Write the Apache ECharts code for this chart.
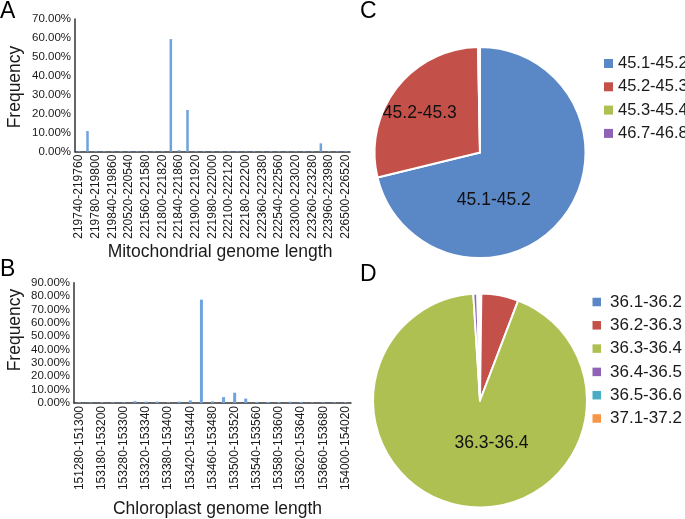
<!DOCTYPE html>
<html><head><meta charset="utf-8">
<script src="https://cdn.jsdelivr.net/npm/echarts/dist/echarts.min.js"></script>
<style>html,body{margin:0;padding:0;background:#fff}#c{width:685px;height:519px}</style>
</head><body><div id="c"></div>
<script>
// Panel A: mitochondrial genome length distribution
const mitoCategories = [
 '219740-219760','219760-219780','219780-219800','219820-219840','219840-219860','220480-220500',
 '220520-220540','221020-221040','221560-221580','221780-221800','221800-221820','221820-221840',
 '221840-221860','221880-221900','221900-221920','221960-221980','221980-222000','222060-222080',
 '222100-222120','222160-222180','222180-222200','222300-222320','222360-222380','222460-222480',
 '222540-222560','222800-222820','223000-223020','223120-223140','223260-223280','223900-223920',
 '223960-223980','224540-224560','226500-226520'];
const mitoValues = [0.4,10.9,0.4,0.4,0.4,0.4,0.4,0.4,0.4,0.4,0.4,59.4,0.8,22.0,0.4,0.4,0.4,0.4,0.4,0.4,0.4,0.4,0.4,0.4,0.4,0.4,0.4,0.4,0.4,4.4,0.4,0.4,0.4];
const mitoTicks = [0,10,20,30,40,50,60,70];

// Panel B: chloroplast genome length distribution
const chloroCategories = [
 '151280-151300','152900-152920','153180-153200','153240-153260','153280-153300','153300-153320',
 '153320-153340','153360-153380','153380-153400','153400-153420','153420-153440','153440-153460',
 '153460-153480','153480-153500','153500-153520','153520-153540','153540-153560','153560-153580',
 '153580-153600','153600-153620','153620-153640','153640-153660','153660-153680','153700-153720',
 '154000-154020'];
const chloroValues = [0.5,0.5,0.5,0.5,0.5,1.4,1.0,1.0,0.5,1.0,1.9,77.3,1.2,4.4,7.7,3.3,0.8,0.8,0.8,1.0,0.8,0.5,0.5,0.5,0.5];
const chloroTicks = [0,10,20,30,40,50,60,70,80,90];

// Panel C: mitochondrial GC content
const mitoGCNames = ['45.1-45.2','45.2-45.3','45.3-45.4','46.7-46.8'];
const mitoGCValues = [71.2,28.5,0.15,0.15];

// Panel D: chloroplast GC content
const chloroGCNames = ['36.1-36.2','36.2-36.3','36.3-36.4','36.4-36.5','36.5-36.6','37.1-37.2'];
const chloroGCValues = [0.2,5.6,93.2,0.6,0.2,0.2];

const FONT = 'Liberation Sans';
const pieColors = ['#5A87C5','#C4504A','#AEC052','#8E62B5','#4BACC6','#F79646'];
const barColor = '#6FA3DD';
const pct = v => v.toFixed(2) + '%';

function xAxisCfg(idx, cats, name, gap, shift){
  return {type:'category', gridIndex:idx, data:cats, boundaryGap:true,
    axisLine:{lineStyle:{color:'#333',width:1.5}}, axisTick:{show:false},
    axisLabel:{interval:1, rotate:90, fontFamily:FONT, fontSize:12, color:'#1a1a1a', margin:3},
    name:name, nameLocation:'middle', nameGap:gap,
    nameTextStyle:{fontFamily:FONT, fontSize:17.5, color:'#1a1a1a', padding:[0,0,0,shift]}};
}
function yAxisCfg(idx, ticks){
  return {type:'value', gridIndex:idx, min:ticks[0], max:ticks[ticks.length-1], interval:ticks[1]-ticks[0],
    axisLine:{show:true, lineStyle:{color:'#333',width:1.5}}, axisTick:{show:false}, splitLine:{show:false},
    axisLabel:{formatter:pct, fontFamily:FONT, fontSize:11.5, color:'#1a1a1a', margin:4}};
}
const letterStyle = {fontFamily:FONT,fontSize:23,fontWeight:'normal',color:'#000'};

const chart = echarts.init(document.getElementById('c'), null, {renderer:'canvas'});
chart.setOption({
  animation:false,
  backgroundColor:'#fff',
  title:[
    {text:'A', left:0, top:0, padding:0, textStyle:letterStyle},
    {text:'B', left:0, top:258, padding:0, textStyle:letterStyle},
    {text:'C', left:360, top:0, padding:0, textStyle:letterStyle},
    {text:'D', left:360, top:263, padding:0, textStyle:letterStyle}
  ],
  graphic:[
    {type:'text', x:15, y:87, rotation:Math.PI/2, style:{text:'Frequency', font:'17.5px "Liberation Sans"', fill:'#1a1a1a', textAlign:'center', textVerticalAlign:'middle'}},
    {type:'text', x:15, y:330, rotation:Math.PI/2, style:{text:'Frequency', font:'17.5px "Liberation Sans"', fill:'#1a1a1a', textAlign:'center', textVerticalAlign:'middle'}}
  ],
  grid:[
    {left:75, top:19, width:275, height:132.7},
    {left:74, top:282.7, width:277, height:128}
  ],
  xAxis:[ xAxisCfg(0, mitoCategories, 'Mitochondrial genome length', 87, 15),
          xAxisCfg(1, chloroCategories, 'Chloroplast genome length', 97, 10) ],
  yAxis:[ yAxisCfg(0, mitoTicks), yAxisCfg(1, chloroTicks) ],
  legend:[
    {orient:'vertical', left:604, top:55, padding:0, icon:'rect', itemWidth:9, itemHeight:9, itemGap:6.3,
     itemStyle:{borderWidth:0},
     data:mitoGCNames, textStyle:{fontFamily:FONT,fontSize:16.5,color:'#1a1a1a',lineHeight:17}},
    {orient:'vertical', left:592.5, top:293.5, padding:0, icon:'rect', itemWidth:8.5, itemHeight:8.5, itemGap:6.3,
     itemStyle:{borderWidth:0},
     data:chloroGCNames, textStyle:{fontFamily:FONT,fontSize:17,color:'#1a1a1a',lineHeight:17,padding:[0,0,0,4]}}
  ],
  series:[
    {type:'bar', xAxisIndex:0, yAxisIndex:0, data:mitoValues, barWidth:2.5, itemStyle:{color:barColor}},
    {type:'bar', xAxisIndex:1, yAxisIndex:1, data:chloroValues, barWidth:3, itemStyle:{color:barColor}},
    {type:'pie', center:[480,152.5], radius:105.5, startAngle:90, clockwise:true,
     itemStyle:{borderColor:'#fff', borderWidth:2},
     data:mitoGCNames.map((n,i)=>({name:n, value:mitoGCValues[i],
        itemStyle:{color:pieColors[i]}, label:{show:i<2}})),
     label:{position:'inner', formatter:'{b}', fontFamily:FONT, fontSize:17.5, color:'#111'},
     labelLine:{show:false},
     labelLayout:function(p){ return p.dataIndex===0 ? {dx:-30, dy:13} : {dx:-16, dy:-5}; }
    },
    {type:'pie', center:[480,400.5], radius:107, startAngle:90, clockwise:true,
     itemStyle:{borderColor:'#fff', borderWidth:2},
     data:chloroGCNames.map((n,i)=>({name:n, value:chloroGCValues[i],
        itemStyle:{color:pieColors[i]}, label:{show:i===2}})),
     label:{position:'inner', formatter:'{b}', fontFamily:FONT, fontSize:17.5, color:'#111'},
     labelLine:{show:false},
     labelLayout:function(p){ return {dx:20, dy:-13}; }
    }
  ]
});
</script></body></html>
